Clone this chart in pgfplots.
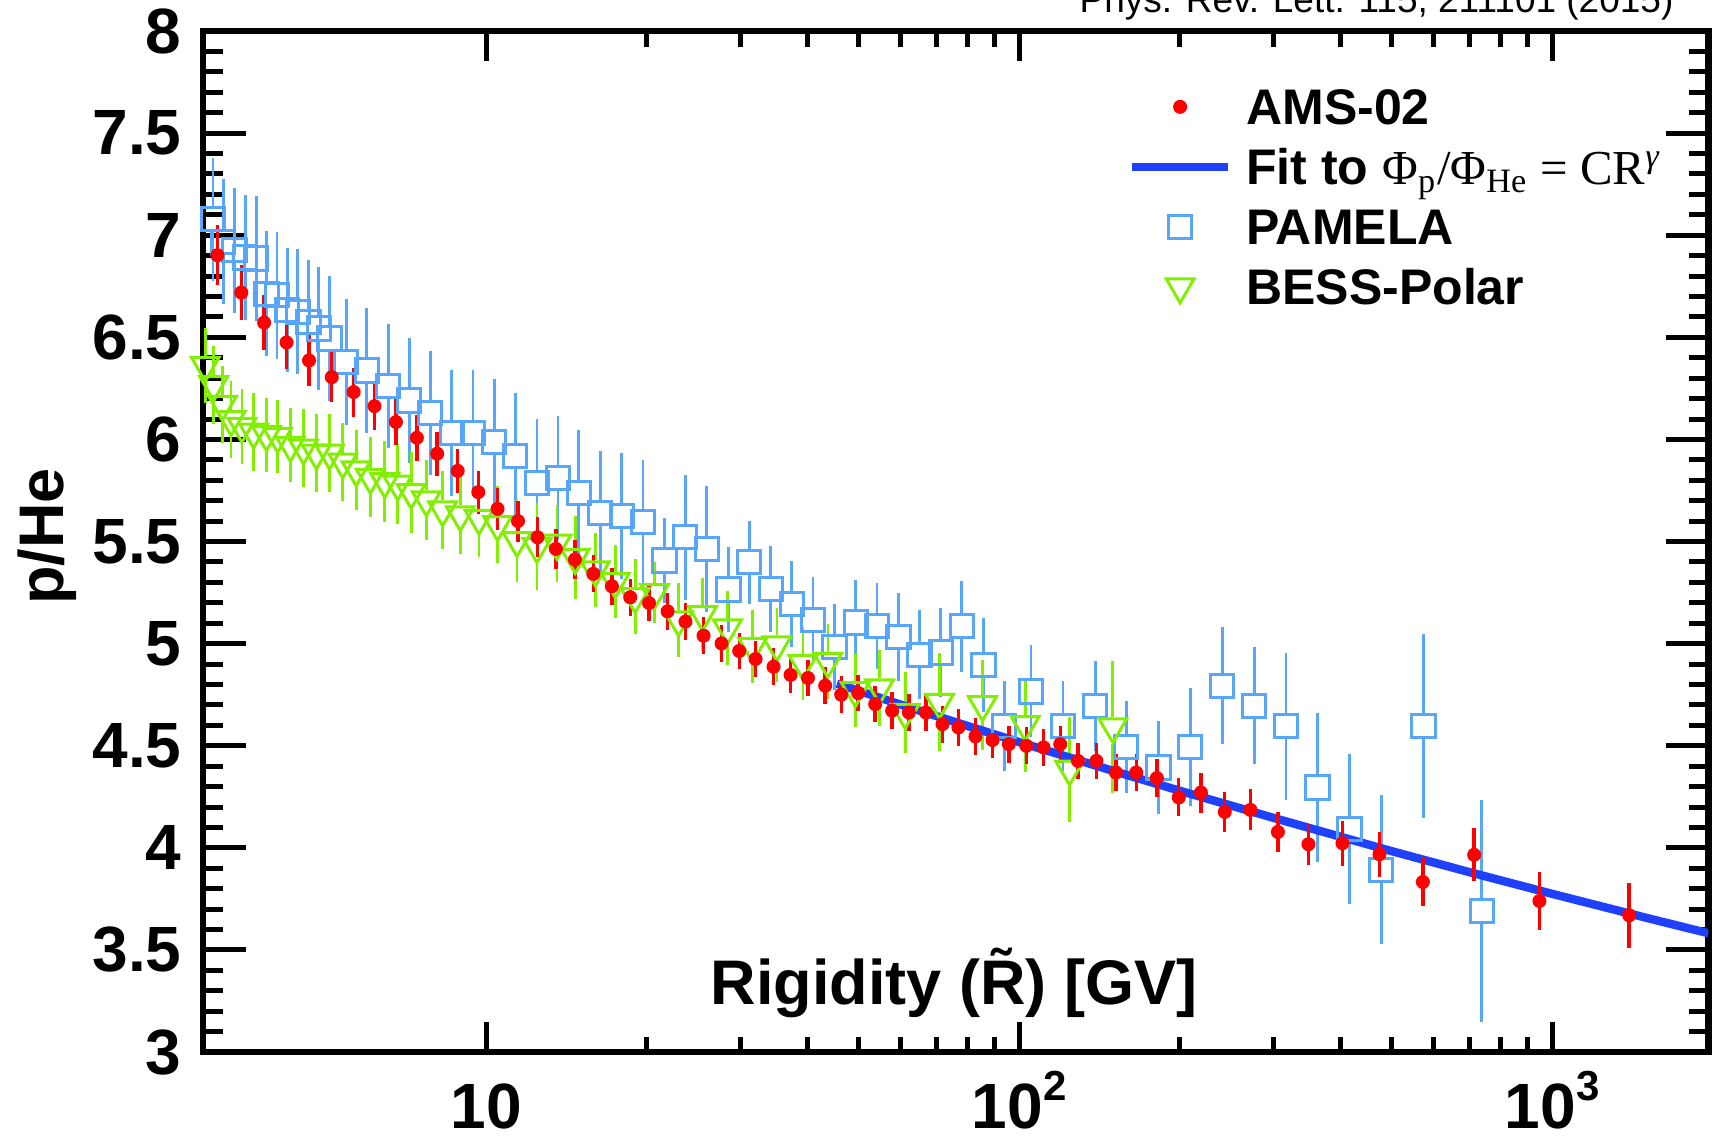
\documentclass[border=0pt]{standalone}
\usepackage{fontspec}
\setmainfont{Liberation Sans}
\newfontfamily\serif{Liberation Serif}
\usepackage{pgfplots}
\usepackage{pgfplotstable}
\pgfplotsset{compat=1.18}
\definecolor{amsred}{RGB}{255,0,0}
\definecolor{fitblue}{RGB}{32,64,255}
\definecolor{pamblue}{RGB}{88,166,250}
\definecolor{bessgreen}{RGB}{130,238,0}
\newcommand\tsup[1]{\raisebox{7pt}{\fontsize{10.5pt}{10.5pt}\selectfont #1}}

\pgfplotstableread{
R v e
3.13 6.902 0.147
3.47 6.719 0.136
3.83 6.572 0.133
4.22 6.475 0.130
4.65 6.387 0.127
5.13 6.305 0.124
5.64 6.232 0.120
6.17 6.163 0.117
6.77 6.085 0.112
7.41 6.008 0.112
8.09 5.930 0.108
8.84 5.846 0.106
9.66 5.742 0.105
10.50 5.660 0.103
11.47 5.600 0.100
12.48 5.521 0.098
13.51 5.464 0.098
14.67 5.412 0.095
15.88 5.342 0.090
17.21 5.281 0.090
18.63 5.227 0.090
20.20 5.199 0.090
21.89 5.158 0.090
23.65 5.108 0.090
25.57 5.039 0.090
27.64 5.001 0.090
29.83 4.964 0.090
32.02 4.925 0.090
34.60 4.887 0.090
37.24 4.847 0.090
40.15 4.832 0.090
43.25 4.794 0.090
46.35 4.750 0.090
49.87 4.758 0.090
53.68 4.704 0.090
57.76 4.672 0.090
62.09 4.663 0.090
66.83 4.663 0.090
71.80 4.606 0.090
76.93 4.590 0.090
82.79 4.546 0.090
89.12 4.528 0.090
95.65 4.508 0.090
103.1 4.500 0.090
111.1 4.492 0.090
119.4 4.508 0.090
128.9 4.426 0.090
139.6 4.426 0.090
151.9 4.369 0.090
165.8 4.369 0.090
181.3 4.342 0.095
199.3 4.247 0.093
219.3 4.271 0.098
243.1 4.176 0.099
271.6 4.186 0.100
305.8 4.078 0.100
349.0 4.018 0.100
404.2 4.023 0.110
474.3 3.969 0.110
572.1 3.833 0.120
714.0 3.966 0.130
946.6 3.740 0.140
1395 3.670 0.160
}\amsdata

\pgfplotstableread{
R v e
3.07 7.078 0.302
3.21 6.967 0.306
3.37 6.926 0.305
3.53 6.891 0.306
3.70 6.886 0.306
3.87 6.714 0.306
4.05 6.706 0.310
4.23 6.632 0.304
4.43 6.624 0.306
4.64 6.575 0.306
4.85 6.543 0.303
5.08 6.494 0.304
5.46 6.379 0.309
5.97 6.338 0.307
6.55 6.263 0.304
7.17 6.191 0.306
7.85 6.131 0.304
8.62 6.031 0.309
9.44 6.031 0.309
10.35 5.987 0.309
11.33 5.918 0.310
12.45 5.788 0.310
13.63 5.812 0.302
14.92 5.739 0.305
16.36 5.639 0.304
17.97 5.626 0.310
19.68 5.595 0.306
21.61 5.407 0.208
23.62 5.521 0.306
25.94 5.464 0.310
28.49 5.265 0.210
31.14 5.399 0.204
34.20 5.268 0.210
37.45 5.195 0.210
41.02 5.116 0.210
45.04 4.985 0.210
49.38 5.104 0.210
54.08 5.085 0.210
59.35 5.034 0.215
65.02 4.946 0.218
71.30 4.957 0.220
78.07 5.085 0.224
85.70 4.896 0.230
93.74 4.598 0.220
105.2 4.766 0.225
120.8 4.598 0.220
138.9 4.696 0.220
158.8 4.495 0.225
182.6 4.394 0.227
209.4 4.495 0.290
240.4 4.794 0.286
276.0 4.696 0.286
316.6 4.595 0.360
362.9 4.296 0.366
416.7 4.092 0.366
477.8 3.892 0.365
573.7 4.595 0.450
738.1 3.691 0.544
}\pamdata

\pgfplotstableread{
R v e
2.97 6.363 0.184
3.08 6.268 0.190
3.20 6.172 0.190
3.32 6.097 0.190
3.48 6.064 0.183
3.66 6.036 0.190
3.87 6.023 0.182
4.06 6.015 0.180
4.29 5.971 0.181
4.54 5.958 0.190
4.80 5.933 0.190
5.08 5.933 0.190
5.38 5.889 0.192
5.70 5.851 0.196
6.06 5.814 0.196
6.45 5.794 0.196
6.82 5.781 0.196
7.23 5.740 0.198
7.72 5.704 0.196
8.28 5.655 0.190
8.94 5.631 0.194
9.69 5.614 0.188
10.50 5.583 0.190
11.42 5.505 0.204
12.45 5.475 0.212
13.57 5.492 0.188
14.69 5.423 0.204
16.02 5.361 0.180
17.46 5.304 0.180
19.03 5.230 0.184
20.69 5.250 0.150
22.95 5.116 0.180
25.46 5.142 0.178
28.36 5.077 0.180
31.61 4.987 0.180
35.11 4.994 0.180
39.29 4.903 0.180
43.76 4.913 0.184
49.25 4.770 0.180
54.70 4.783 0.188
61.10 4.663 0.200
70.88 4.712 0.240
85.33 4.701 0.220
102.6 4.603 0.230
124.3 4.386 0.257
149.9 4.593 0.323
}\bessdata

\pgfplotstableread{
R v
45.5 4.804
60 4.701
80 4.597
100 4.518
150 4.377
200 4.280
300 4.147
500 3.984
700 3.881
1000 3.775
1500 3.658
1965 3.582
}\fitdata

\begin{document}
\begin{tikzpicture}
\useasboundingbox (-50.8pt,-22.25pt) rectangle (379.4pt,263pt);
\begin{axis}[
  scale only axis, width=376.25pt, height=255.25pt,
  xmode=log, xmin=2.944, xmax=1965, ymin=3, ymax=8,
  axis line style={line width=1.6pt},
  tick align=inside,
  xtick style={black, line width=1.25pt, /pgfplots/major tick length=7.5pt, /pgfplots/minor tick length=3.9pt},
  ytick style={black, line width=1.25pt, /pgfplots/major tick length=10.75pt, /pgfplots/minor tick length=5pt},
  xtick={10,100,1000},
  xticklabels={10, 10\tsup{2}, 10\tsup{3}},
  ytick={3,3.5,4,4.5,5,5.5,6,6.5,7,7.5,8},
  yticklabels={3,3.5,4,4.5,5,5.5,6,6.5,7,7.5,8},
  minor y tick num=4,
  xticklabel style={font=\bfseries\fontsize{16pt}{16pt}\selectfont, anchor=base, inner sep=0pt, text depth=0pt, yshift=-19pt},
  yticklabel style={font=\bfseries\fontsize{16pt}{16pt}\selectfont, anchor=east, inner sep=0pt, xshift=-5.25pt},
  xlabel={Rigidity (\~{R}) [GV]},
  xlabel style={at={(axis description cs:0.4988,0.047)}, anchor=base, inner sep=0pt, font=\bfseries\fontsize{15.75pt}{16pt}\selectfont},
  ylabel={p/He},
  ylabel style={at={(axis description cs:-0.093,0.505)}, anchor=base, inner sep=0pt, font=\bfseries\fontsize{15.75pt}{16pt}\selectfont},
  legend style={at={(axis description cs:0.6138,0.950)}, anchor=north west, draw=none, fill=none, inner sep=0pt,
    font=\bfseries\fontsize{12.5pt}{15pt}\selectfont, row sep=3pt,
    nodes={inner sep=0pt, text height=10.5pt, text depth=1.5pt},
    /tikz/every odd column/.append style={column sep=3.5pt}},
  legend cell align=left,
]
% PAMELA (error bars with a gap at the marker)
\addplot[draw=none, no markers, forget plot,
  error bars/.cd, y dir=plus, y explicit, error mark=none,
  error bar style={line width=0.7pt, draw=pamblue}]
  table[x=R, y expr=\thisrow{v}+0.064, y error expr=\thisrow{e}-0.064] {\pamdata};
\addplot[draw=none, no markers, forget plot,
  error bars/.cd, y dir=minus, y explicit, error mark=none,
  error bar style={line width=0.7pt, draw=pamblue}]
  table[x=R, y expr=\thisrow{v}-0.064, y error expr=\thisrow{e}-0.064] {\pamdata};
\addplot[pamblue, only marks, mark=square, mark size=2.9pt, line width=0.75pt, forget plot]
  table[x=R, y=v] {\pamdata};
% BESS-Polar
\addplot[draw=none, no markers, forget plot,
  error bars/.cd, y dir=plus, y explicit, error mark=none,
  error bar style={line width=0.7pt, draw=bessgreen}]
  table[x=R, y expr=\thisrow{v}+0.047, y error expr=\thisrow{e}-0.047] {\bessdata};
\addplot[draw=none, no markers, forget plot,
  error bars/.cd, y dir=minus, y explicit, error mark=none,
  error bar style={line width=0.7pt, draw=bessgreen}]
  table[x=R, y expr=\thisrow{v}-0.082, y error expr=\thisrow{e}-0.082] {\bessdata};
\addplot[bessgreen, only marks, mark=triangle, mark size=4pt, line width=0.75pt,
  mark options={rotate=180}, forget plot]
  table[x=R, y=v] {\bessdata};
% Fit
\addplot[fitblue, line width=2.1pt, no marks, forget plot] table[x=R, y=v] {\fitdata};
% AMS-02
\addplot[amsred, only marks, mark=*, mark size=1.55pt, forget plot,
  error bars/.cd, y dir=both, y explicit, error mark=none,
  error bar style={line width=0.85pt, amsred}]
  table[x=R, y=v, y error=e] {\amsdata};

\addlegendimage{legend image code/.code={\path[draw=none] (0pt,0pt) -- (24pt,0pt); \draw[amsred, only marks, mark=*, mark size=1.55pt] plot coordinates {(12pt,0pt)};}}
\addlegendentry{AMS-02}
\addlegendimage{legend image code/.code={\draw[fitblue, line width=2.1pt] (0pt,0pt) -- (24pt,0pt);}}
\addlegendentry{Fit to {\serif\mdseries\fontsize{12.2pt}{15pt}\selectfont Φ\textsubscript{p}/Φ\textsubscript{He} = CR\textsuperscript{\itshape γ}}}
\addlegendimage{legend image code/.code={\path[draw=none] (0pt,0pt) -- (24pt,0pt); \draw[pamblue, only marks, mark=square, mark size=2.9pt, line width=0.75pt] plot coordinates {(12pt,0pt)};}}
\addlegendentry{PAMELA}
\addlegendimage{legend image code/.code={\path[draw=none] (0pt,0pt) -- (24pt,0pt); \draw[bessgreen, only marks, mark=triangle, mark size=4pt, line width=0.75pt, mark options={rotate=180}] plot coordinates {(12pt,0pt)};}}
\addlegendentry{BESS-Polar}
\end{axis}
\node[anchor=base east, inner sep=0pt, font=\fontsize{9.25pt}{11pt}\selectfont] at (367.7pt,259.75pt) {Phys. Rev. Lett. 115, 211101 (2015)};
\end{tikzpicture}
\end{document}
